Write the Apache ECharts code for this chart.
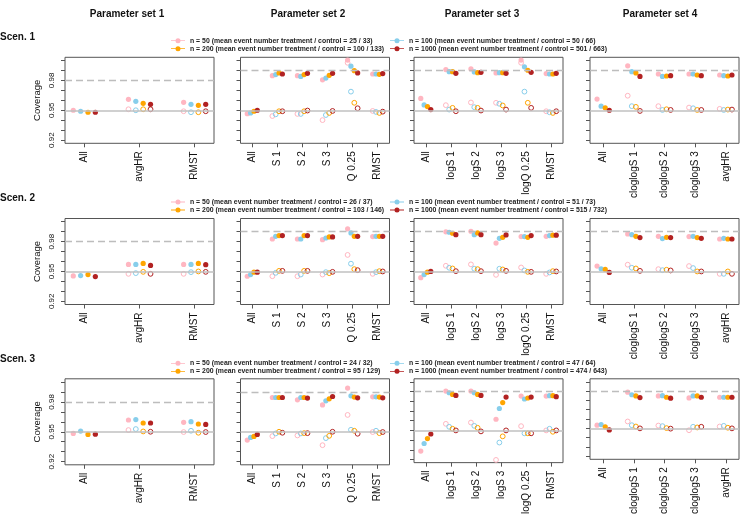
<!DOCTYPE html>
<html>
<head>
<meta charset="utf-8">
<script src="https://cdn.jsdelivr.net/npm/echarts@6/dist/echarts.min.js"></script>
<style>
  html, body { margin: 0; padding: 0; background: #fff; }
  #chart { width: 740px; height: 517px; }
</style>
</head>
<body>
<div id="chart"></div>
<script>
// methods on the x axis, one list per parameter set
const methods1 = ['All', 'avgHR', 'RMST']
const methods2 = ['All', 'S 1', 'S 2', 'S 3', 'Q 0.25', 'RMST']
const methods3 = ['All', 'logS 1', 'logS 2', 'logS 3', 'logQ 0.25', 'RMST']
const methods4 = ['All', 'cloglogS 1', 'cloglogS 2', 'cloglogS 3', 'avgHR']

const sampleSizes = [50, 100, 200, 1000]
const nColors = ['#FFB6C1', '#87CEEB', '#FFA500', '#B22222']
// mean event numbers treatment / control per scenario
const events1 = ['25 / 33', '50 / 66', '100 / 133', '501 / 663']
const events2 = ['26 / 37', '51 / 73', '103 / 146', '515 / 732']
const events3 = ['24 / 32', '47 / 64', '95 / 129', '474 / 643']

// dashed reference level per parameter set
const bandLevels = [0.98333, 0.99, 0.99, 0.9875]
const nominal = 0.95
const yTicks = [0.92, 0.93, 0.94, 0.95, 0.96, 0.97, 0.98, 0.99, 1.0]
const yLabels = [0.92, 0.95, 0.98]

// coverage per method: [n=50, n=100, n=200, n=1000]
// filled = solid points, open = hollow points (null: none)
const s1p1Filled = [[0.950, 0.949, 0.948, 0.948], [0.961, 0.959, 0.957, 0.956], [0.958, 0.956, 0.955, 0.956]]
const s1p1Open = [null, [0.951, 0.950, 0.951, 0.951], [0.949, 0.948, 0.948, 0.949]]
const s1p2Filled = [[0.9466, 0.9473, 0.949, 0.950], [0.9847, 0.9858, 0.9875, 0.9864], [0.9847, 0.984, 0.9858, 0.9871],
  [0.9806, 0.9823, 0.9851, 0.9871], [1.0004, 0.9943, 0.9898, 0.9875], [0.9864, 0.9864, 0.9861, 0.9868]]
const s1p2Open = [null, [0.9442, 0.9459, 0.949, 0.949], [0.9463, 0.9463, 0.949, 0.9497],
  [0.9401, 0.9452, 0.9473, 0.9493], [0.9977, 0.9687, 0.9575, 0.952], [0.9493, 0.9483, 0.9473, 0.9486]]
const s1p3Filled = [[0.9619, 0.9554, 0.9537, 0.9507], [0.9909, 0.9888, 0.9888, 0.9871], [0.9915, 0.9885, 0.9878, 0.9881],
  [0.9875, 0.9878, 0.9878, 0.9871], [1.0004, 0.9936, 0.9902, 0.9881], [0.9868, 0.9864, 0.9864, 0.9871]]
const s1p3Open = [null, [0.9551, 0.9507, 0.9524, 0.949], [0.9578, 0.9531, 0.9524, 0.9497],
  [0.9575, 0.9565, 0.9548, 0.9507], [0.9977, 0.9687, 0.9575, 0.9524], [0.949, 0.948, 0.9473, 0.949]]
const s1p4Filled = [[0.9612, 0.9541, 0.9524, 0.950], [0.9946, 0.9888, 0.9875, 0.984], [0.9864, 0.984, 0.9844, 0.9847],
  [0.9864, 0.9864, 0.9854, 0.9847], [0.9854, 0.9847, 0.9844, 0.9854]]
const s1p4Open = [null, [0.9646, 0.9541, 0.9534, 0.9493], [0.9541, 0.9503, 0.951, 0.9503],
  [0.9527, 0.952, 0.9503, 0.9503], [0.9514, 0.9503, 0.9507, 0.9507]]

const s2p1Filled = [[0.9455, 0.9459, 0.9469, 0.9449], [0.9571, 0.9571, 0.9581, 0.9561], [0.9571, 0.9571, 0.9581, 0.9568]]
const s2p1Open = [null, [0.9476, 0.9483, 0.9496, 0.9476], [0.9476, 0.9493, 0.950, 0.9496]]
const s2p2Filled = [[0.9452, 0.9469, 0.9493, 0.9493], [0.9826, 0.9853, 0.986, 0.986], [0.9826, 0.9826, 0.986, 0.986],
  [0.9819, 0.9836, 0.9847, 0.9847], [0.9928, 0.9887, 0.9853, 0.9853], [0.985, 0.9853, 0.9853, 0.9853]]
const s2p2Open = [null, [0.9452, 0.9486, 0.9506, 0.9506], [0.9452, 0.9469, 0.9506, 0.9506],
  [0.9469, 0.9493, 0.9483, 0.9496], [0.9666, 0.9578, 0.9523, 0.9513], [0.9476, 0.9493, 0.9503, 0.950]]
const s2p3Filled = [[0.9438, 0.9469, 0.9493, 0.950], [0.9898, 0.9894, 0.9884, 0.987], [0.9904, 0.987, 0.9887, 0.987],
  [0.9785, 0.9833, 0.9843, 0.9867], [0.985, 0.985, 0.9843, 0.986], [0.9853, 0.986, 0.9864, 0.9864]]
const s2p3Open = [null, [0.9557, 0.9537, 0.953, 0.9503], [0.9571, 0.9527, 0.9523, 0.9503],
  [0.9466, 0.9527, 0.952, 0.9506], [0.954, 0.951, 0.9496, 0.9496], [0.9476, 0.949, 0.9503, 0.950]]
const s2p4Filled = [[0.9554, 0.9527, 0.952, 0.949], [0.9877, 0.987, 0.9853, 0.984], [0.9853, 0.983, 0.9843, 0.984],
  [0.985, 0.9853, 0.984, 0.9833], [0.9826, 0.9833, 0.9826, 0.9826]]
const s2p4Open = [null, [0.9568, 0.9537, 0.953, 0.9506], [0.9523, 0.9513, 0.9517, 0.951],
  [0.9554, 0.9534, 0.950, 0.950], [0.9476, 0.9476, 0.950, 0.9476]]

const s3p1Filled = [[0.9483, 0.9507, 0.9473, 0.9476], [0.9618, 0.9622, 0.9588, 0.9588], [0.9595, 0.9601, 0.9578, 0.9574]]
const s3p1Open = [null, [0.9517, 0.9527, 0.9503, 0.950], [0.9497, 0.951, 0.949, 0.9497]]
const s3p2Filled = [[0.9416, 0.9443, 0.9453, 0.9473], [0.9844, 0.9844, 0.9844, 0.9844], [0.9821, 0.9844, 0.9844, 0.9838],
  [0.977, 0.9811, 0.9831, 0.9854], [0.9939, 0.9861, 0.9848, 0.9841], [0.9851, 0.9851, 0.9848, 0.9841]]
const s3p2Open = [null, [0.9456, 0.9483, 0.950, 0.949], [0.9463, 0.9483, 0.9486, 0.9486],
  [0.9365, 0.9436, 0.9459, 0.950], [0.9669, 0.952, 0.951, 0.948], [0.9497, 0.951, 0.9486, 0.9497]]
const s3p3Filled = [[0.9287, 0.9365, 0.9416, 0.9463], [0.9905, 0.9888, 0.9871, 0.9861], [0.9905, 0.9888, 0.9871, 0.9861],
  [0.9615, 0.9726, 0.9787, 0.9844], [0.9854, 0.9824, 0.9834, 0.9844], [0.9854, 0.9858, 0.9858, 0.9848]]
const s3p3Open = [null, [0.9568, 0.9537, 0.9517, 0.950], [0.9581, 0.9547, 0.9527, 0.949],
  [0.9196, 0.9375, 0.9439, 0.950], [0.9544, 0.947, 0.947, 0.947], [0.950, 0.9517, 0.9486, 0.950]]
const s3p4Filled = [[0.9534, 0.9541, 0.9517, 0.9483], [0.9888, 0.9861, 0.9848, 0.9831], [0.9848, 0.9851, 0.9834, 0.9824],
  [0.9827, 0.9848, 0.9848, 0.9834], [0.9834, 0.9834, 0.9834, 0.9834]]
const s3p4Open = [null, [0.9574, 0.9534, 0.952, 0.950], [0.953, 0.9524, 0.9503, 0.9497],
  [0.948, 0.9517, 0.951, 0.9517], [0.952, 0.9527, 0.9507, 0.950]]

const methods = [methods1, methods2, methods3, methods4]
const events = [events1, events2, events3]
const filled = [
  [s1p1Filled, s1p2Filled, s1p3Filled, s1p4Filled],
  [s2p1Filled, s2p2Filled, s2p3Filled, s2p4Filled],
  [s3p1Filled, s3p2Filled, s3p3Filled, s3p4Filled],
]
const open = [
  [s1p1Open, s1p2Open, s1p3Open, s1p4Open],
  [s2p1Open, s2p2Open, s2p3Open, s2p4Open],
  [s3p1Open, s3p2Open, s3p3Open, s3p4Open],
]

// layout
const font = 'Liberation Sans, Arial, Helvetica, sans-serif'
const gridLefts = [65, 240.5, 414, 590]
const gridTops = [57.3, 218.5, 378.8]
const gridW = 149
const gridH = 86
const offsets = [-0.2, -0.0667, 0.0667, 0.2]
const titleX = [127, 308, 482, 660]
const scenY = [38.5, 199.5, 360.5]
const legendY = [40.7, 202, 363.3]

const legendName = (r, k) => 'n = ' + sampleSizes[k] + ' (mean event number treatment / control = ' + events[r][k] + ')'

const grids = []
const xAxes = []
const yAxes = []
const series = []
const graphics = []
const legends = []

for (let r = 0; r < 3; r++) {
  for (let p = 0; p < 4; p++) {
    const g = r * 4 + p
    const cats = methods[p]
    const n = cats.length
    const ext = 0.04 * (n - 0.5)
    grids.push({
      left: gridLefts[p], top: gridTops[r], width: gridW, height: gridH,
      show: true, borderColor: '#555', borderWidth: 1, backgroundColor: 'transparent',
    })
    xAxes.push({
      type: 'value', gridIndex: g,
      min: 0.75 - ext, max: n + 0.25 + ext,
      axisLine: { show: false },
      splitLine: { show: false },
      axisTick: { show: true, length: 4, lineStyle: { color: '#555' }, customValues: cats.map((c, i) => i + 1) },
      axisLabel: {
        rotate: 90, margin: 8, fontSize: 10, color: '#111', fontFamily: font,
        customValues: cats.map((c, i) => i + 1),
        formatter: (v) => cats[Math.round(v) - 1] || '',
      },
    })
    yAxes.push({
      type: 'value', gridIndex: g,
      min: 0.9168, max: 1.0032,
      name: p === 0 ? 'Coverage' : '',
      nameLocation: 'middle', nameGap: 23,
      nameTextStyle: { fontSize: 9.5, color: '#111', fontFamily: font },
      axisLine: { show: false },
      splitLine: { show: false },
      axisTick: { show: true, length: 4, lineStyle: { color: '#555' }, customValues: yTicks },
      axisLabel: {
        show: p === 0, rotate: 90, margin: 9, fontSize: 8, color: '#111', fontFamily: font,
        customValues: yLabels,
        formatter: (v) => v.toFixed(2),
      },
    })
    // reference lines
    series.push({
      type: 'scatter', xAxisIndex: g, yAxisIndex: g, data: [], z: 1, silent: true,
      markLine: {
        symbol: 'none', silent: true, label: { show: false },
        data: [
          { yAxis: nominal, lineStyle: { color: '#c0c0c0', width: 1.7, type: 'solid' } },
          { yAxis: bandLevels[p], lineStyle: { color: '#bdbdbd', width: 1.4, type: [7, 4] } },
        ],
      },
    })
    for (let k = 0; k < 4; k++) {
      const fData = []
      const oData = []
      filled[r][p].forEach((vals, i) => { if (vals) fData.push([i + 1 + offsets[k], vals[k]]) })
      open[r][p].forEach((vals, i) => { if (vals) oData.push([i + 1 + offsets[k], vals[k]]) })
      series.push({
        name: legendName(r, k), type: 'scatter', xAxisIndex: g, yAxisIndex: g, z: 3,
        symbol: 'circle', symbolSize: 5.2, data: fData,
        itemStyle: { color: nColors[k], opacity: 1 },
      })
      series.push({
        name: legendName(r, k) + ' (open)', type: 'scatter', xAxisIndex: g, yAxisIndex: g, z: 3,
        symbol: 'circle', symbolSize: 4.8, data: oData,
        itemStyle: { color: 'rgba(255,255,255,0)', borderColor: nColors[k], borderWidth: 1, opacity: 1 },
      })
    }
  }
  graphics.push({
    type: 'text', left: 0, top: scenY[r] - 6,
    style: { text: 'Scen. ' + (r + 1), font: 'bold 10px ' + font, fill: '#111' },
  })
  // two legend columns per scenario
  const cols = [[0, 2], [1, 3]]
  const colX = [171, 390]
  cols.forEach((ks, c) => {
    legends.push({
      orient: 'vertical', left: colX[c], top: legendY[r] - 4, padding: 0, itemGap: 0,
      itemWidth: 14, itemHeight: 5, selectedMode: false,
      icon: 'path://M0,2.1H14V2.9H0Z M7,0A2.5,2.5,0,1,1,7,5A2.5,2.5,0,1,1,7,0Z',
      textStyle: { fontSize: 6.9, fontWeight: 'bold', color: '#222', lineHeight: 8, fontFamily: font },
      data: ks.map((k) => legendName(r, k)),
    })
  })
}

for (let p = 0; p < 4; p++) {
  graphics.push({
    type: 'text', x: titleX[p], y: 14,
    style: { text: 'Parameter set ' + (p + 1), font: 'bold 10px ' + font, fill: '#111', textAlign: 'center', textVerticalAlign: 'middle' },
  })
}

const chart = echarts.init(document.getElementById('chart'))
chart.setOption({
  animation: false,
  backgroundColor: '#fff',
  textStyle: { fontFamily: font },
  grid: grids,
  xAxis: xAxes,
  yAxis: yAxes,
  legend: legends,
  graphic: graphics,
  series: series,
})
</script>
</body>
</html>
